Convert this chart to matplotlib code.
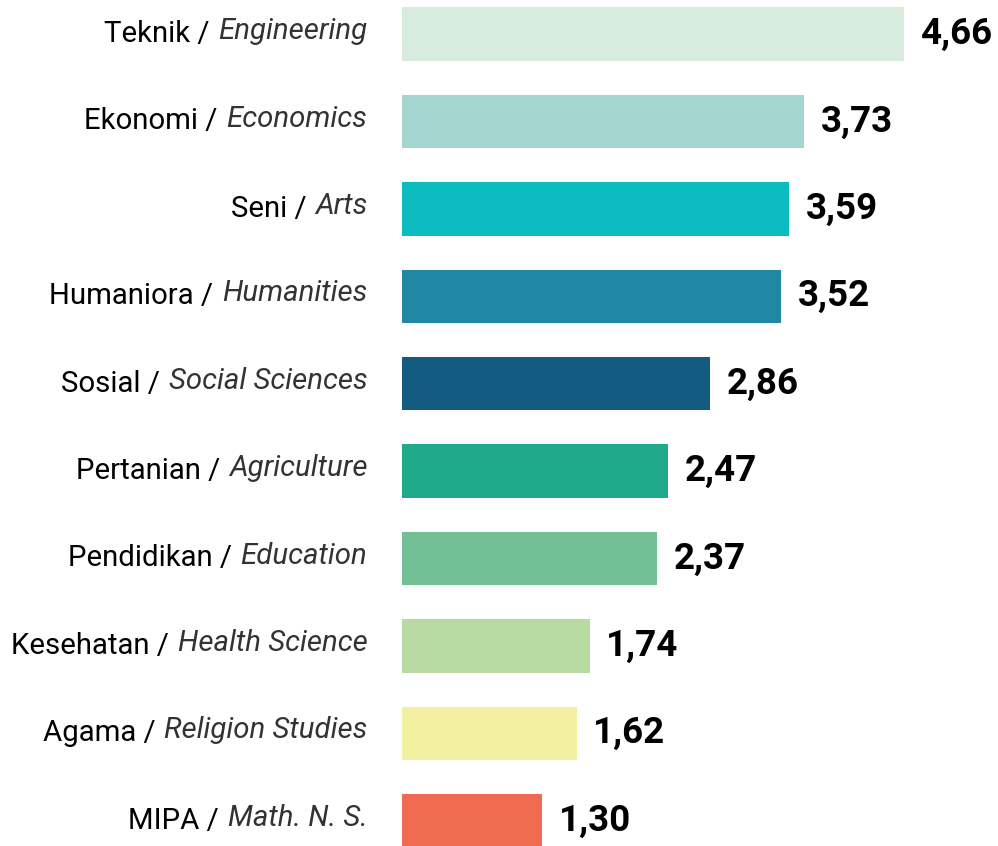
import matplotlib
matplotlib.use("Agg")
import matplotlib.pyplot as plt

names_id = ["Teknik", "Ekonomi", "Seni", "Humaniora", "Sosial", "Pertanian",
            "Pendidikan", "Kesehatan", "Agama", "MIPA"]
names_en = ["Engineering", "Economics", "Arts", "Humanities", "Social Sciences",
            "Agriculture", "Education", "Health Science", "Religion Studies",
            "Math. N. S."]
values = [4.66, 3.73, 3.59, 3.52, 2.86, 2.47, 2.37, 1.74, 1.62, 1.30]
colors = ["#d7ecdd", "#a2d6ce", "#0bbbc0", "#2088a5", "#135b80", "#21a98b",
          "#73bf96", "#b6daa2", "#f2efa0", "#f06b4f"]

plt.rcParams["font.family"] = ["Roboto", "DejaVu Sans"]

W, H = 998, 846
fig = plt.figure(figsize=(W / 100, H / 100), dpi=100)
ax = fig.add_axes([402 / W, 0, 1 - 402 / W, 1])

pos = list(range(len(values)))
ax.barh(pos, values, height=0.61, color=colors)
ax.set_xlim(0, 5.53)
ax.set_ylim(9.29, -0.39)
ax.axis("off")

for p, v in zip(pos, values):
    ax.annotate(f"{v:.2f}".replace(".", ","), (v, p), xytext=(12, 0),
                textcoords="offset points", ha="left", va="center",
                fontsize=26.5, fontweight="bold", color="black")

# two-part labels: regular Indonesian + italic English, right aligned
renderer = fig.canvas.get_renderer()
for p, a, b in zip(pos, names_id, names_en):
    t2 = ax.annotate(b, (0, p), xytext=(-25, 2), textcoords="offset points",
                     ha="right", va="center", fontsize=21.2, style="italic",
                     color="#333333")
    w = t2.get_window_extent(renderer).width * 72 / fig.dpi
    ax.annotate(a + " / ", (0, p), xytext=(-25 - w - 1, 0),
                textcoords="offset points", ha="right", va="center",
                fontsize=21.2, color="black")

fig.savefig("out.png", dpi=100)
